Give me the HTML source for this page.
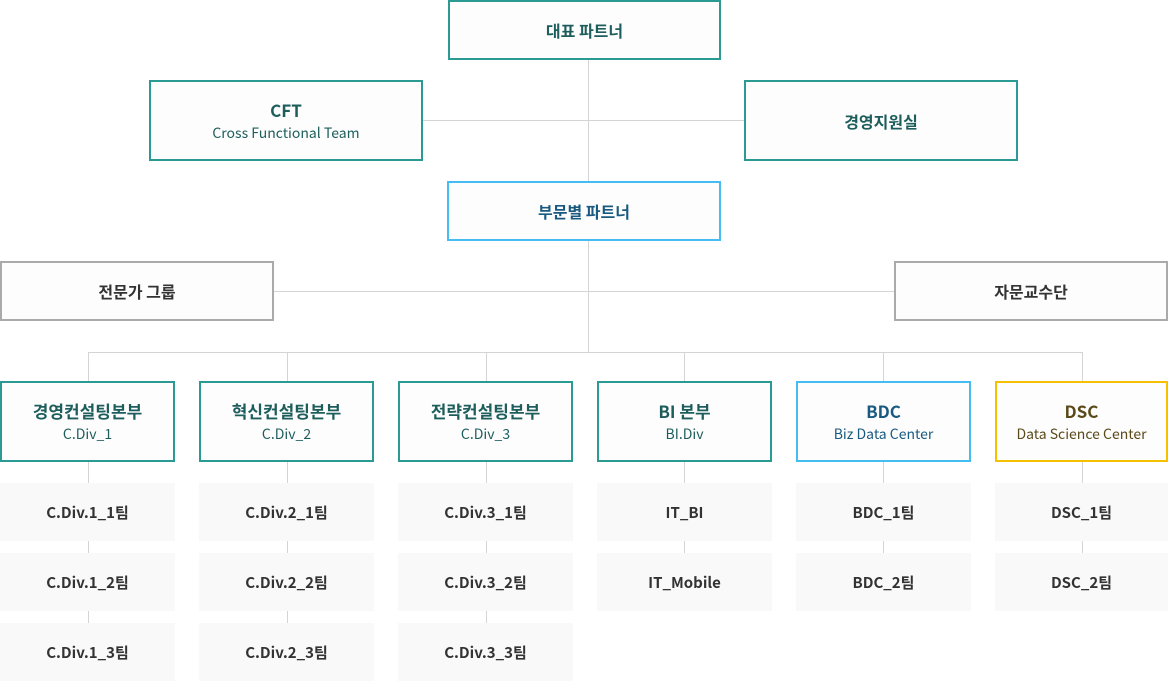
<!DOCTYPE html>
<html><head><meta charset="utf-8"><style>
*{margin:0;padding:0;box-sizing:border-box}
body{width:1168px;height:682px;background:#fff;position:relative;overflow:hidden;font-family:"Noto Sans CJK KR","Liberation Sans",sans-serif}
.b{position:absolute;border:2px solid #2a9a93;background:#fdfdfd;display:flex;flex-direction:column;align-items:center;justify-content:center;text-align:center;color:#1d5e5c;font-size:16px;font-weight:bold;line-height:1.25}
.b big{font-size:17px}
.b small{font-size:14px;font-weight:normal;margin-top:5px}
.t{position:absolute;background:#f9f9f9;display:flex;align-items:center;justify-content:center;font-size:15px;font-weight:bold;color:#333;width:175px;height:58px}
.l{position:absolute;background:#d4d4d4}
</style></head><body>
<div class="l" style="left:588px;top:60px;width:1px;height:292px"></div>
<div class="l" style="left:422px;top:120px;width:322px;height:1px"></div>
<div class="l" style="left:273px;top:291px;width:621px;height:1px"></div>
<div class="l" style="left:88px;top:352px;width:995px;height:1px"></div>
<div class="l" style="left:88px;top:352px;width:1px;height:305px"></div>
<div class="l" style="left:287px;top:352px;width:1px;height:305px"></div>
<div class="l" style="left:486px;top:352px;width:1px;height:305px"></div>
<div class="l" style="left:684px;top:352px;width:1px;height:235px"></div>
<div class="l" style="left:883px;top:352px;width:1px;height:235px"></div>
<div class="l" style="left:1082px;top:352px;width:1px;height:235px"></div>

<div class="b" style="left:448px;top:0;width:273px;height:60px">대표 파트너</div>
<div class="b" style="left:149px;top:80px;width:274px;height:81px"><big>CFT</big><small>Cross Functional Team</small></div>
<div class="b" style="left:744px;top:80px;width:274px;height:81px">경영지원실</div>
<div class="b" style="left:447px;top:181px;width:274px;height:60px;border-color:#45bdf2;color:#1a5a80">부문별 파트너</div>
<div class="b" style="left:0;top:261px;width:274px;height:60px;border-color:#aaa;color:#333">전문가 그룹</div>
<div class="b" style="left:894px;top:261px;width:274px;height:60px;border-color:#aaa;color:#333">자문교수단</div>

<div class="b" style="left:0;top:381px;width:175px;height:81px"><big>경영컨설팅본부</big><small>C.Div_1</small></div>
<div class="b" style="left:199px;top:381px;width:175px;height:81px"><big>혁신컨설팅본부</big><small>C.Div_2</small></div>
<div class="b" style="left:398px;top:381px;width:175px;height:81px"><big>전략컨설팅본부</big><small>C.Div_3</small></div>
<div class="b" style="left:597px;top:381px;width:175px;height:81px"><big>BI 본부</big><small>BI.Div</small></div>
<div class="b" style="left:796px;top:381px;width:175px;height:81px;border-color:#45bdf2;color:#1a5a80"><big>BDC</big><small>Biz Data Center</small></div>
<div class="b" style="left:995px;top:381px;width:173px;height:81px;border-color:#f5c000;color:#5a4a1a"><big>DSC</big><small>Data Science Center</small></div>

<div class="t" style="left:0;top:483px">C.Div.1_1팀</div>
<div class="t" style="left:0;top:553px">C.Div.1_2팀</div>
<div class="t" style="left:0;top:623px">C.Div.1_3팀</div>
<div class="t" style="left:199px;top:483px">C.Div.2_1팀</div>
<div class="t" style="left:199px;top:553px">C.Div.2_2팀</div>
<div class="t" style="left:199px;top:623px">C.Div.2_3팀</div>
<div class="t" style="left:398px;top:483px">C.Div.3_1팀</div>
<div class="t" style="left:398px;top:553px">C.Div.3_2팀</div>
<div class="t" style="left:398px;top:623px">C.Div.3_3팀</div>
<div class="t" style="left:597px;top:483px">IT_BI</div>
<div class="t" style="left:597px;top:553px">IT_Mobile</div>
<div class="t" style="left:796px;top:483px">BDC_1팀</div>
<div class="t" style="left:796px;top:553px">BDC_2팀</div>
<div class="t" style="left:995px;top:483px;width:173px">DSC_1팀</div>
<div class="t" style="left:995px;top:553px;width:173px">DSC_2팀</div>
</body></html>
